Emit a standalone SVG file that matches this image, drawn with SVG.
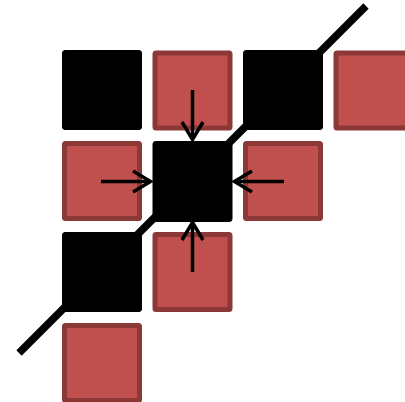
<svg xmlns="http://www.w3.org/2000/svg" width="405" height="402" viewBox="0 0 405 402">
<defs>
<style>
.blk{fill:#000;stroke:#000;stroke-width:1}
.red{fill:#c0504d;stroke:#8c3836;stroke-width:5}
.arr{fill:none;stroke:#000;stroke-width:3.5}
.head{fill:none;stroke:#000;stroke-width:3.5;stroke-linejoin:miter}
</style>
</defs>
<rect width="405" height="402" fill="#fff"/>
<g id="connectors">
<line x1="19" y1="353" x2="366" y2="6" stroke="#000" stroke-width="7.5"/>
</g>
<g id="n00"><rect class="blk" x="62.5" y="50.5" width="79" height="79" rx="2.5"/></g>
<g id="n01"><rect class="red" x="155" y="53" width="75" height="75" rx="1"/></g>
<g id="n02"><rect class="blk" x="243.5" y="50.5" width="79" height="79" rx="2.5"/></g>
<g id="n03"><rect class="red" x="336" y="53" width="75" height="75" rx="1"/></g>
<g id="n10"><rect class="red" x="64.5" y="143.5" width="75" height="75" rx="1"/></g>
<g id="n11"><rect class="blk" x="153" y="141.5" width="79" height="80" rx="2.5"/></g>
<g id="n12"><rect class="red" x="245.5" y="143.5" width="75" height="75" rx="1"/></g>
<g id="n20"><rect class="blk" x="62.5" y="232.5" width="79" height="79" rx="2.5"/></g>
<g id="n21"><rect class="red" x="155" y="234.5" width="75" height="75" rx="1"/></g>
<g id="n30"><rect class="red" x="64.5" y="325.5" width="75" height="75" rx="1"/></g>
<g id="arrows">
<line class="arr" x1="192.5" y1="90" x2="192.5" y2="138"/>
<polyline class="head" points="182,122 192.5,139.5 203,122"/>
<line class="arr" x1="192.5" y1="272" x2="192.5" y2="225"/>
<polyline class="head" points="182,240 192.5,222.5 203,240"/>
<line class="arr" x1="101" y1="181.5" x2="149" y2="181.5"/>
<polyline class="head" points="133,171 150.5,181.5 133,192"/>
<line class="arr" x1="284" y1="181.5" x2="236" y2="181.5"/>
<polyline class="head" points="252,171 234.5,181.5 252,192"/>
</g>
</svg>
